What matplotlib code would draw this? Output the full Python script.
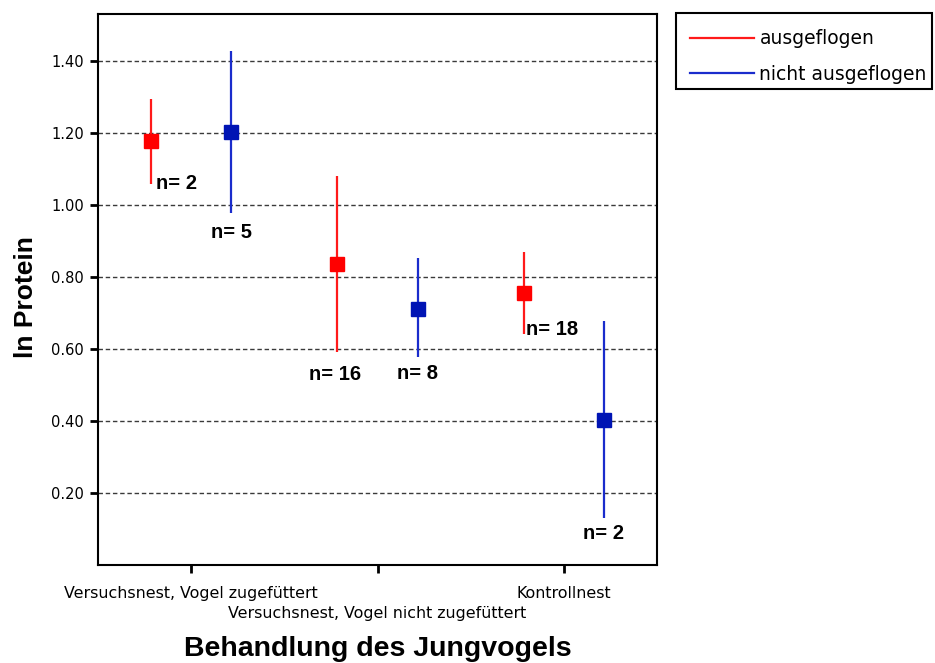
import matplotlib
matplotlib.use("Agg")
import matplotlib.pyplot as plt
from matplotlib.lines import Line2D
from matplotlib.patches import Rectangle
import numpy as np

plt.rcParams['font.family'] = ['Liberation Sans', 'DejaVu Sans']

# Groups on the x axis
categories = ["Versuchsnest, Vogel zugefüttert",
              "Versuchsnest, Vogel nicht zugefüttert",
              "Kontrollnest"]
series_names = ["ausgeflogen", "nicht ausgeflogen"]

# Mean and interval bounds of ln Protein
mean_aus = [1.176, 0.835, 0.756]
low_aus = [1.058, 0.591, 0.642]
high_aus = [1.294, 1.081, 0.869]
n_aus = [2, 16, 18]

mean_nicht = [1.202, 0.712, 0.403]
low_nicht = [0.978, 0.578, 0.131]
high_nicht = [1.428, 0.852, 0.678]
n_nicht = [5, 8, 2]

yticks = [0.20, 0.40, 0.60, 0.80, 1.00, 1.20, 1.40]

fig = plt.figure(figsize=(9.35, 6.63), dpi=100)
ax = fig.add_axes([0.1048, 0.1478, 0.5979, 0.8311])

x = np.arange(len(categories))
offset = 0.215
red_line, red_mark = '#ff1a1a', '#ff0000'
blue_line, blue_mark = '#1a2ccc', '#0014b4'

# horizontal reference lines
for yv in yticks:
    ax.axhline(yv, color='#3a3a3a', lw=1.0, ls=(0, (3.2, 2.0)), zorder=1)

series = [
    (x - offset, mean_aus, low_aus, high_aus, n_aus, red_line, red_mark),
    (x + offset, mean_nicht, low_nicht, high_nicht, n_nicht, blue_line, blue_mark),
]
for xs, m, lo, hi, _, lc, mc in series:
    ax.vlines(xs, lo, hi, color=lc, lw=1.6, zorder=3)
    ax.plot(xs, m, ls='none', marker='s', ms=9.8, mfc=mc, mec=mc, zorder=4)

# sample size labels below the intervals (offsets in points, alignment)
label_layout_aus = [((3.5, 0), 'left'), ((-1.5, -16), 'center'), ((1.5, 3), 'left')]
label_layout_nicht = [((0, -14), 'center'), ((0, -12), 'center'), ((0, -11), 'center')]
for xs, lo, ns, layout in [(x - offset, low_aus, n_aus, label_layout_aus),
                           (x + offset, low_nicht, n_nicht, label_layout_nicht)]:
    for xi, li, ni, (off, ha) in zip(xs, lo, ns, layout):
        ax.annotate(f"n= {ni}", (xi, li), xytext=off, textcoords='offset points',
                    ha=ha, va='center', fontsize=14.5, fontweight='bold', zorder=5)

ax.set_xlim(-0.5, 2.5)
ax.set_ylim(0, 1.53)
ax.set_yticks(yticks)
ax.set_yticklabels([f"{v:.2f}" for v in yticks], fontsize=10.5, family='DejaVu Sans')
ax.set_xticks(x)
ax.set_xticklabels(categories, fontsize=11.4, family='DejaVu Sans')
for i, lab in enumerate(ax.get_xticklabels()):
    if i % 2 == 1:
        lab.set_y(-0.036)
ax.tick_params(axis='both', direction='out', length=6, width=2, color='black', pad=4)
ax.tick_params(axis='x', pad=9)
for sp in ax.spines.values():
    sp.set_linewidth(1.5)
    sp.set_color('black')

ax.set_ylabel("ln Protein", fontsize=19, fontweight='bold', labelpad=9.5)
ax.yaxis.label.set_y(0.487)
ax.set_xlabel("Behandlung des Jungvogels", fontsize=20.5, fontweight='bold', labelpad=11)

# legend entries, with a separate frame box around them
handles = [Line2D([], [], color=red_line, lw=1.6), Line2D([], [], color=blue_line, lw=1.6)]
fig.legend(handles, series_names, loc='upper left',
           bbox_to_anchor=(0.723, 0.977, 0.274, 0.0), mode='expand',
           prop={'family': 'DejaVu Sans', 'size': 13.5},
           handlelength=3.4, handletextpad=0.3,
           labelspacing=0.88, borderpad=0.75, borderaxespad=0,
           frameon=False)
fig.add_artist(Rectangle((0.723, 0.866), 0.274, 0.114, transform=fig.transFigure,
                         fill=False, edgecolor='black', linewidth=1.5))

fig.savefig("out.png", dpi=100)
